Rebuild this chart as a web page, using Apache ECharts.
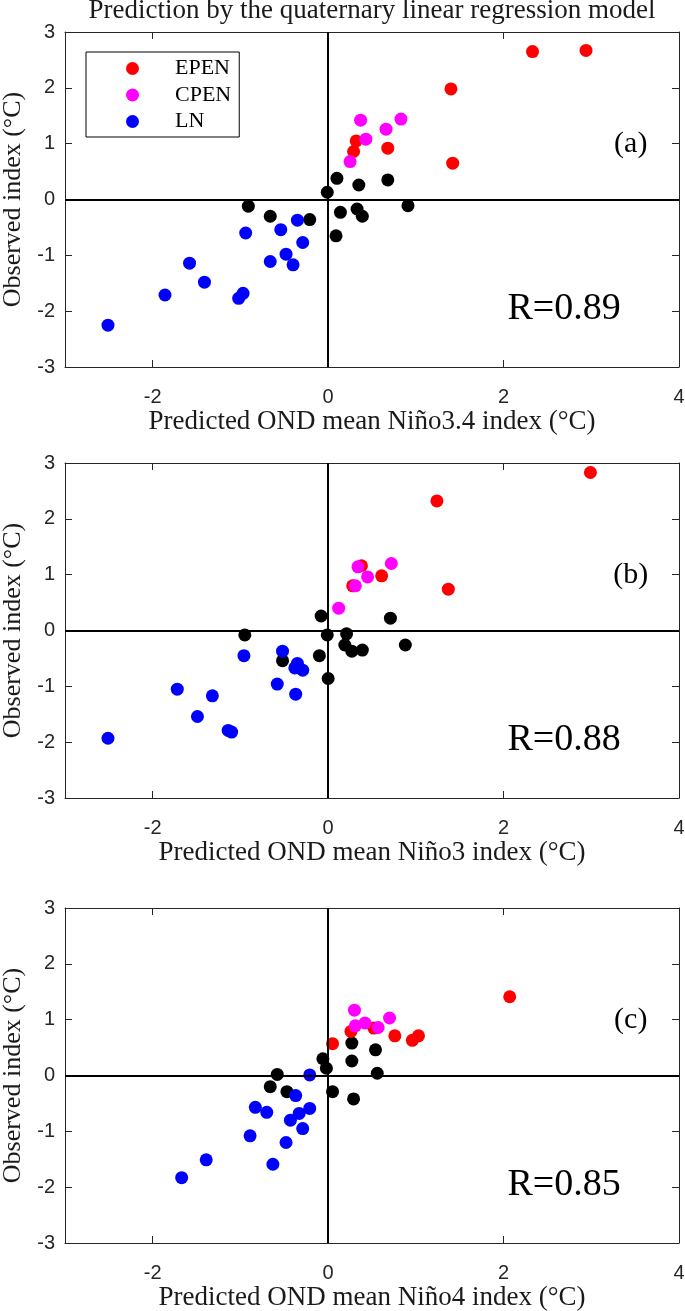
<!DOCTYPE html>
<html>
<head>
<meta charset="utf-8">
<script src="https://cdn.jsdelivr.net/npm/echarts@6/dist/echarts.min.js"></script>
<style>
html,body{margin:0;padding:0;background:#fff;}
#chart{width:685px;height:1311px;}
</style>
</head>
<body>
<div id="chart"></div>
<script>
// ---------- data ----------
const categories = ['EPEN', 'CPEN', 'LN', 'Neutral'];
const legendItems = ['EPEN', 'CPEN', 'LN'];
const xTickValues = [-2, 0, 2, 4];
const yTickValues = [-3, -2, -1, 0, 1, 2, 3];
const panelTags = ['(a)', '(b)', '(c)'];
const correlations = ['R=0.89', 'R=0.88', 'R=0.85'];
const xAxisTitles = [
  'Predicted OND mean Niño3.4 index (°C)',
  'Predicted OND mean Niño3 index (°C)',
  'Predicted OND mean Niño4 index (°C)'
];
const yAxisTitle = 'Observed index (°C)';
const chartTitle = 'Prediction by the quaternary linear regression model';

// Panel (a) Niño3.4  [predicted, observed]
const a_EPEN = [[0.32,1.05],[0.29,0.86],[0.68,0.92],[1.40,1.98],[1.42,0.65],[2.33,2.65],[2.94,2.67]];
const a_CPEN = [[0.37,1.42],[0.43,1.08],[0.66,1.26],[0.83,1.44],[0.25,0.68]];
const a_LN = [[-0.35,-0.37],[-0.94,-0.60],[-0.54,-0.54],[-0.29,-0.77],[-0.48,-0.98],[-0.66,-1.11],[-0.40,-1.17],
  [-1.58,-1.14],[-1.41,-1.48],[-1.86,-1.71],[-0.97,-1.68],[-1.02,-1.77],[-2.51,-2.25]];
const a_Neutral = [[0.10,0.38],[-0.01,0.13],[0.35,0.26],[0.68,0.35],[0.91,-0.11],[0.14,-0.23],[0.33,-0.17],
  [0.39,-0.30],[-0.91,-0.12],[-0.66,-0.30],[-0.21,-0.36],[0.09,-0.65]];

// Panel (b) Niño3
const b_EPEN = [[2.99,2.83],[1.24,2.32],[1.37,0.74],[0.61,0.98],[0.38,1.16],[0.28,0.80]];
const b_CPEN = [[0.72,1.20],[0.34,1.14],[0.45,0.96],[0.31,0.80],[0.12,0.40]];
const b_LN = [[-0.52,-0.37],[-0.96,-0.45],[-0.35,-0.59],[-0.38,-0.67],[-0.29,-0.71],[-0.58,-0.96],[-0.37,-1.14],
  [-1.32,-1.17],[-1.72,-1.05],[-1.49,-1.54],[-1.14,-1.79],[-1.10,-1.82],[-2.51,-1.93]];
const b_Neutral = [[-0.08,0.26],[0.71,0.22],[-0.95,-0.08],[-0.01,-0.08],[0.21,-0.06],[0.19,-0.26],[0.27,-0.37],
  [0.39,-0.35],[0.88,-0.26],[-0.10,-0.45],[-0.52,-0.54],[0.00,-0.86]];

// Panel (c) Niño4
const c_EPEN = [[2.07,1.41],[0.26,0.79],[0.52,0.85],[0.76,0.71],[0.96,0.63],[1.03,0.71],[0.05,0.57]];
const c_CPEN = [[0.30,1.17],[0.31,0.89],[0.42,0.94],[0.57,0.86],[0.70,1.03]];
const c_LN = [[-0.21,0.01],[-0.37,-0.36],[-0.21,-0.59],[-0.83,-0.57],[-0.70,-0.66],[-0.33,-0.68],[-0.43,-0.80],
  [-0.29,-0.95],[-0.89,-1.08],[-0.48,-1.20],[-0.63,-1.59],[-1.39,-1.51],[-1.67,-1.83]];
const c_Neutral = [[0.27,0.58],[0.54,0.46],[-0.06,0.30],[-0.02,0.13],[0.27,0.26],[0.56,0.04],[-0.58,0.02],
  [-0.66,-0.20],[-0.47,-0.29],[0.05,-0.29],[0.29,-0.42]];

const panels = [
  {EPEN: a_EPEN, CPEN: a_CPEN, LN: a_LN, Neutral: a_Neutral},
  {EPEN: b_EPEN, CPEN: b_CPEN, LN: b_LN, Neutral: b_Neutral},
  {EPEN: c_EPEN, CPEN: c_CPEN, LN: c_LN, Neutral: c_Neutral}
];

// ---------- styling / layout ----------
const colors = {EPEN: '#ff0000', CPEN: '#ff00ff', LN: '#0000ff', Neutral: '#000000'};
const serif = '"Liberation Serif", "Times New Roman", serif';
const sans = '"Liberation Sans", Arial, sans-serif';
const axisColor = '#262626';
const gridTops = [32, 463, 908];
const gridHeight = 335;

const grids = [], xAxes = [], yAxes = [], series = [];

gridTops.forEach((top, i) => {
  grids.push({left: 65, top: top, width: 614, height: gridHeight, containLabel: false, outerBoundsMode: 'none'});
  const tickStyle = {show: true, inside: true, length: 7, lineStyle: {color: axisColor, width: 1}};
  const lineStyle = {show: true, onZero: false, lineStyle: {color: axisColor, width: 1}};
  // bottom x
  xAxes.push({
    type: 'value', gridIndex: i, min: -3, max: 4, position: 'bottom',
    axisLine: lineStyle,
    axisTick: Object.assign({customValues: xTickValues}, tickStyle),
    axisLabel: {customValues: xTickValues, margin: 20, color: axisColor, fontFamily: sans, fontSize: 20},
    splitLine: {show: false},
    name: xAxisTitles[i], nameLocation: 'middle', nameGap: 41,
    nameTextStyle: {fontFamily: serif, fontSize: 27, color: '#1a1a1a'}
  });
  // top x (ticks only)
  xAxes.push({
    type: 'value', gridIndex: i, min: -3, max: 4, position: 'top',
    axisLine: lineStyle,
    axisTick: Object.assign({customValues: xTickValues}, tickStyle),
    axisLabel: {show: false}, splitLine: {show: false}
  });
  // left y
  yAxes.push({
    type: 'value', gridIndex: i, min: -3, max: 3, interval: 1, position: 'left',
    axisLine: lineStyle, axisTick: tickStyle,
    axisLabel: {margin: 10, color: axisColor, fontFamily: sans, fontSize: 20},
    splitLine: {show: false},
    name: yAxisTitle, nameLocation: 'middle', nameGap: 32, nameRotate: 90,
    nameTextStyle: {fontFamily: serif, fontSize: 26, color: '#1a1a1a'}
  });
  // right y (ticks only)
  yAxes.push({
    type: 'value', gridIndex: i, min: -3, max: 3, interval: 1, position: 'right',
    axisLine: lineStyle, axisTick: tickStyle,
    axisLabel: {show: false}, splitLine: {show: false}
  });

  const xi = i * 2, yi = i * 2;
  // zero lines + annotations
  series.push({
    type: 'scatter', name: 'ref' + i, xAxisIndex: xi, yAxisIndex: yi, data: [], z: 1, silent: true,
    markLine: {
      silent: true, symbol: ['none', 'none'], animation: false,
      label: {show: false},
      lineStyle: {color: '#000', width: 2, type: 'solid'},
      data: [{xAxis: 0}, {yAxis: 0}]
    },
    markPoint: {
      silent: true, symbol: 'circle', symbolSize: 0, animation: false,
      data: [
        {coord: [3.45, 1.0], label: {show: true, position: 'inside', formatter: panelTags[i],
          fontFamily: serif, fontSize: 30, color: '#000'}},
        {coord: [2.69, -1.96], label: {show: true, position: 'inside', formatter: correlations[i],
          fontFamily: serif, fontSize: 38, color: '#000'}}
      ]
    }
  });
  ['Neutral', 'EPEN', 'CPEN', 'LN'].forEach(cat => {
    series.push({
      type: 'scatter', name: cat, xAxisIndex: xi, yAxisIndex: yi, z: 3,
      symbol: 'circle', symbolSize: 13,
      itemStyle: {color: colors[cat], opacity: 1},
      data: panels[i][cat],
      animation: false
    });
  });
});

const chart = echarts.init(document.getElementById('chart'), null, {renderer: 'canvas'});
chart.setOption({
  backgroundColor: '#fff',
  animation: false,
  title: {
    text: chartTitle, left: 372, textAlign: 'center', top: 0, padding: 0,
    textStyle: {fontFamily: serif, fontSize: 27, fontWeight: 'normal', color: '#1a1a1a', lineHeight: 21}
  },
  legend: {
    data: legendItems, orient: 'vertical', left: 86, top: 52,
    borderColor: '#000', borderWidth: 1, padding: [5, 8, 4, 40],
    itemWidth: 13, itemHeight: 13, itemGap: 3.5, icon: 'circle', selectedMode: false,
    textStyle: {fontFamily: serif, fontSize: 22, color: '#000', lineHeight: 23, padding: [0, 0, 0, 31]},
    backgroundColor: '#fff'
  },
  grid: grids, xAxis: xAxes, yAxis: yAxes, series: series
});
</script>
</body>
</html>
